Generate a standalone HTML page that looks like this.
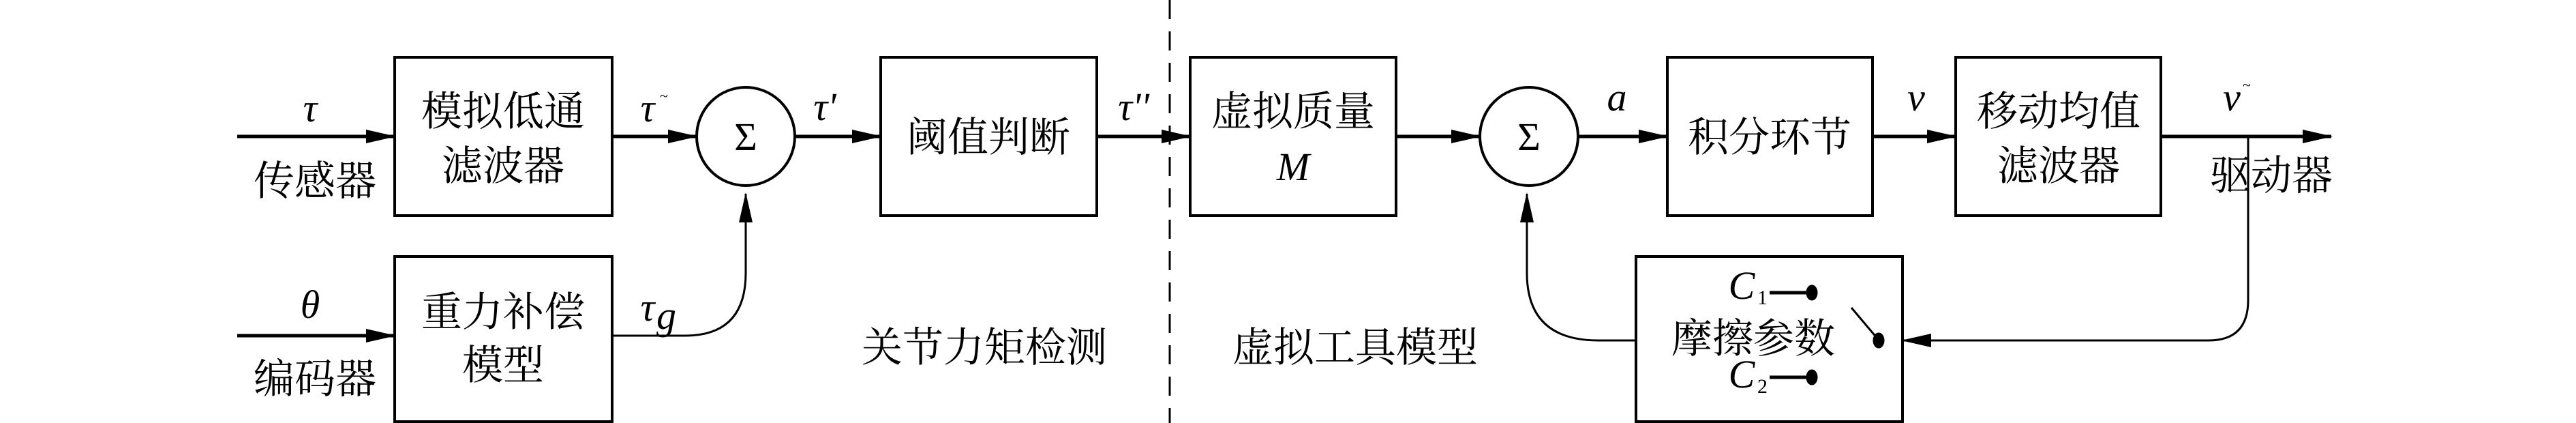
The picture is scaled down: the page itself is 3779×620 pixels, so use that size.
<!DOCTYPE html>
<html><head><meta charset="utf-8"><style>
html,body{margin:0;padding:0;background:#fff;}
svg{display:block;}
text{font-family:"Liberation Serif","Noto Serif CJK SC",serif;fill:#000;}
.c{font-family:"Liberation Serif","Noto Serif CJK SC",serif;font-size:60px;}
.i{font-style:italic;font-size:58px;}
</style></head><body>
<svg width="3779" height="620" viewBox="0 0 3779 620" xmlns="http://www.w3.org/2000/svg">
<defs>
<marker id="ah" markerWidth="44" markerHeight="20" refX="42" refY="10" orient="auto" markerUnits="userSpaceOnUse">
<path d="M0,0 L44,10 L0,20 Z" fill="#000"/>
</marker>
</defs>
<g fill="none" stroke="#000" stroke-width="4">
<rect x="579" y="84" width="319" height="232"/>
<rect x="579" y="376" width="319" height="242"/>
<rect x="1292" y="84" width="317" height="232"/>
<rect x="1746" y="84" width="302" height="232"/>
<rect x="2446" y="84" width="301" height="232"/>
<rect x="2869" y="84" width="301" height="232"/>
<rect x="2400" y="376" width="391" height="242"/>
<ellipse cx="1094" cy="200" rx="72" ry="72"/>
<ellipse cx="2243" cy="200" rx="72" ry="72"/>
</g>
<line x1="1716" y1="0" x2="1716" y2="620" stroke="#000" stroke-width="3" stroke-dasharray="28,18"/>
<g fill="none" stroke="#000" stroke-width="5" marker-end="url(#ah)">
<line x1="348" y1="200" x2="579" y2="200"/>
<line x1="348" y1="492" x2="579" y2="492"/>
<line x1="898" y1="200" x2="1022" y2="200"/>
<line x1="1166" y1="200" x2="1292" y2="200"/>
<line x1="1609" y1="200" x2="1746" y2="200"/>
<line x1="2048" y1="200" x2="2171" y2="200"/>
<line x1="2315" y1="200" x2="2446" y2="200"/>
<line x1="2747" y1="200" x2="2869" y2="200"/>
<line x1="3170" y1="200" x2="3420" y2="200"/>
</g>
<g fill="none" stroke="#000" stroke-width="3" marker-end="url(#ah)">
<path d="M898,492 L1005,492 Q1094,492 1094,400 L1094,284"/>
<path d="M3298,200 L3298,440 Q3298,499 3240,499 L2791,499"/>
<path d="M2400,499 L2345,499 Q2240,499 2240,400 L2240,284"/>
</g>
<!-- switch -->
<g stroke="#000" stroke-width="5" fill="#000">
<line x1="2596" y1="429" x2="2656" y2="429"/>
<ellipse cx="2658" cy="429" rx="6" ry="9"/>
<line x1="2596" y1="553" x2="2656" y2="553"/>
<ellipse cx="2658" cy="553" rx="6" ry="9"/>
<line x1="2716" y1="451" x2="2754" y2="496" stroke-width="3"/>
<ellipse cx="2756" cy="499" rx="6" ry="9"/>
</g>
<!-- text -->
<text class="c" x="738" y="184" text-anchor="middle">模拟低通</text>
<text class="c" x="738" y="264" text-anchor="middle">滤波器</text>
<text class="c" x="738" y="478" text-anchor="middle">重力补偿</text>
<text class="c" x="738" y="556" text-anchor="middle">模型</text>
<text class="c" x="1450" y="222" text-anchor="middle">阈值判断</text>
<text class="c" x="1897" y="184" text-anchor="middle">虚拟质量</text>
<text class="i" x="1897" y="264" text-anchor="middle">M</text>
<text class="c" x="2596" y="222" text-anchor="middle">积分环节</text>
<text class="c" x="3020" y="184" text-anchor="middle">移动均值</text>
<text class="c" x="3020" y="264" text-anchor="middle">滤波器</text>
<text class="c" x="2572" y="517" text-anchor="middle">摩擦参数</text>
<text class="c" x="462" y="286" text-anchor="middle">传感器</text>
<text class="c" x="462" y="576" text-anchor="middle">编码器</text>
<text class="c" x="3332" y="278" text-anchor="middle">驱动器</text>
<text class="c" x="1444" y="530" text-anchor="middle">关节力矩检测</text>
<text class="c" x="1988" y="530" text-anchor="middle">虚拟工具模型</text>
<text class="i" x="455" y="178" text-anchor="middle">τ</text>
<text class="i" x="455" y="466" text-anchor="middle">θ</text>
<text class="i" x="950" y="178" text-anchor="middle">τ</text>
<text x="968" y="148" font-size="22">~</text>
<text class="i" x="1210" y="176" text-anchor="middle">τ'</text>
<text class="i" x="1663" y="176" text-anchor="middle">τ''</text>
<text class="i" x="950" y="470" text-anchor="middle">τ</text>
<text class="i" x="963" y="482" font-size="30">g</text>
<text x="1094" y="220" font-size="58" text-anchor="middle">Σ</text>
<text x="2243" y="220" font-size="58" text-anchor="middle">Σ</text>
<text class="i" x="2372" y="162" text-anchor="middle">a</text>
<text class="i" x="2811" y="162" text-anchor="middle">v</text>
<text class="i" x="3274" y="162" text-anchor="middle">v</text>
<text x="3290" y="132" font-size="22">~</text>
<text class="i" x="2555" y="438" text-anchor="middle">C</text>
<text x="2578" y="446" font-size="30">1</text>
<text class="i" x="2555" y="568" text-anchor="middle">C</text>
<text x="2578" y="576" font-size="30">2</text>
</svg>
</body></html>
